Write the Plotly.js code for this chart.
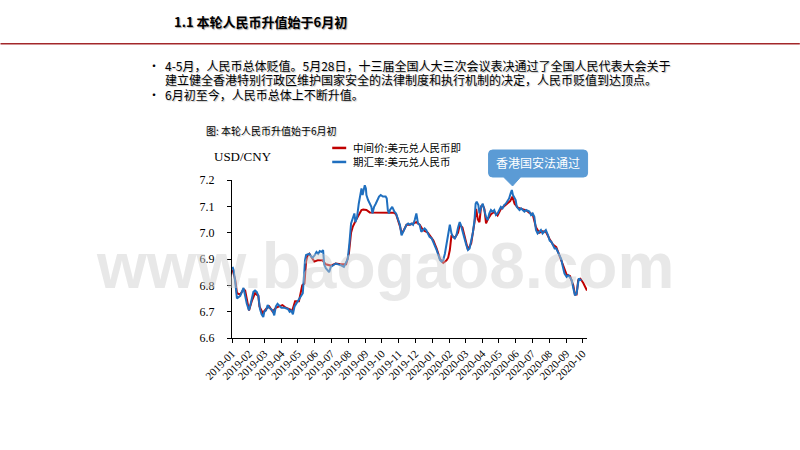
<!DOCTYPE html>
<html>
<head>
<meta charset="utf-8">
<script src="https://cdn.plot.ly/plotly-3.0.1.min.js"></script>
<style>html,body{margin:0;padding:0;background:#fff;}#chart{width:800px;height:450px;}</style>
</head>
<body>
<div id="chart"></div>
<script>
// ---- data ----
var spotName = '期汇率:美元兑人民币';
var midName = '中间价:美元兑人民币即';
var spotDates = ['2019-01-02','2019-01-04','2019-01-07','2019-01-10','2019-01-16','2019-01-22','2019-01-28','2019-02-01','2019-02-04','2019-02-09','2019-02-12','2019-02-15','2019-02-18','2019-02-21','2019-02-24','2019-02-27','2019-03-01','2019-03-04','2019-03-07','2019-03-10','2019-03-16','2019-03-19','2019-03-22','2019-03-25','2019-04-01','2019-04-07','2019-04-13','2019-04-16','2019-04-19','2019-04-22','2019-04-25','2019-04-28','2019-05-01','2019-05-07','2019-05-10','2019-05-13','2019-05-14','2019-05-16','2019-05-22','2019-05-25','2019-05-28','2019-06-01','2019-06-04','2019-06-07','2019-06-10','2019-06-13','2019-06-16','2019-06-18','2019-06-21','2019-06-27','2019-06-30','2019-07-09','2019-07-18','2019-07-24','2019-07-31','2019-08-03','2019-08-06','2019-08-09','2019-08-12','2019-08-14','2019-08-17','2019-08-20','2019-08-23','2019-08-25','2019-08-27','2019-08-31','2019-09-02','2019-09-03','2019-09-06','2019-09-09','2019-09-12','2019-09-14','2019-09-17','2019-09-20','2019-09-23','2019-09-26','2019-09-29','2019-10-03','2019-10-08','2019-10-10','2019-10-12','2019-10-14','2019-10-16','2019-10-20','2019-10-24','2019-10-27','2019-10-31','2019-11-03','2019-11-06','2019-11-09','2019-11-12','2019-11-15','2019-11-18','2019-11-21','2019-11-24','2019-11-27','2019-11-30','2019-12-03','2019-12-06','2019-12-09','2019-12-12','2019-12-15','2019-12-18','2019-12-21','2019-12-24','2019-12-27','2019-12-31','2020-01-03','2020-01-06','2020-01-09','2020-01-12','2020-01-15','2020-01-18','2020-01-21','2020-01-24','2020-01-27','2020-01-30','2020-02-02','2020-02-05','2020-02-08','2020-02-11','2020-02-14','2020-02-17','2020-02-20','2020-02-22','2020-02-25','2020-02-28','2020-03-03','2020-03-06','2020-03-09','2020-03-12','2020-03-15','2020-03-18','2020-03-20','2020-03-22','2020-03-25','2020-03-27','2020-03-30','2020-04-02','2020-04-05','2020-04-08','2020-04-11','2020-04-14','2020-04-17','2020-04-20','2020-04-23','2020-04-26','2020-04-29','2020-05-02','2020-05-05','2020-05-08','2020-05-11','2020-05-14','2020-05-17','2020-05-20','2020-05-23','2020-05-25','2020-05-27','2020-06-01','2020-06-03','2020-06-08','2020-06-11','2020-06-14','2020-06-17','2020-06-20','2020-06-26','2020-06-29','2020-07-02','2020-07-05','2020-07-08','2020-07-11','2020-07-14','2020-07-17','2020-07-20','2020-07-23','2020-07-26','2020-07-30','2020-08-02','2020-08-05','2020-08-08','2020-08-11','2020-08-14','2020-08-17','2020-08-20','2020-08-23','2020-08-26','2020-08-29','2020-09-02','2020-09-05','2020-09-08','2020-09-11','2020-09-14','2020-09-17','2020-09-20','2020-09-22','2020-09-24','2020-09-27','2020-09-29'];
var spotValues = [6.87,6.857,6.81,6.75,6.76,6.79,6.73,6.705,6.73,6.775,6.78,6.775,6.76,6.71,6.69,6.68,6.70,6.705,6.725,6.715,6.705,6.686,6.72,6.73,6.715,6.715,6.71,6.70,6.705,6.69,6.72,6.73,6.736,6.756,6.77,6.857,6.895,6.915,6.92,6.91,6.905,6.915,6.927,6.92,6.93,6.927,6.934,6.88,6.865,6.85,6.87,6.883,6.877,6.87,6.90,6.96,7.035,7.054,7.073,7.04,7.06,7.11,7.155,7.168,7.143,7.18,7.168,7.143,7.124,7.11,7.098,7.073,7.098,7.11,7.124,7.137,7.143,7.137,7.137,7.13,7.086,7.073,7.086,7.098,7.08,7.073,7.048,7.03,6.99,7.003,7.016,7.03,7.035,7.03,7.035,7.03,7.048,7.073,7.035,7.03,7.003,7.01,7.016,7.01,6.997,6.984,6.978,6.965,6.953,6.934,6.915,6.896,6.89,6.896,6.92,6.96,6.99,7.03,6.997,6.984,6.978,6.99,7.02,7.04,7.03,7.003,6.984,6.953,6.934,6.94,6.97,7.00,7.048,7.11,7.118,7.105,7.073,7.098,7.11,7.086,7.06,7.048,7.073,7.086,7.08,7.086,7.067,7.073,7.086,7.098,7.092,7.105,7.11,7.118,7.13,7.15,7.162,7.143,7.124,7.098,7.086,7.092,7.086,7.08,7.086,7.08,7.067,7.073,7.06,7.01,6.997,7.003,7.01,6.997,7.003,7.01,6.99,6.97,6.965,6.953,6.94,6.94,6.927,6.908,6.90,6.87,6.845,6.832,6.838,6.83,6.82,6.79,6.762,6.768,6.80,6.826,6.82,6.82];
var midDates = ['2019-01-02','2019-01-07','2019-01-10','2019-01-16','2019-01-22','2019-01-25','2019-02-01','2019-02-06','2019-02-12','2019-02-18','2019-02-20','2019-02-26','2019-03-04','2019-03-10','2019-03-16','2019-03-22','2019-03-28','2019-04-03','2019-04-09','2019-04-15','2019-04-21','2019-04-26','2019-05-03','2019-05-09','2019-05-13','2019-05-16','2019-05-19','2019-05-22','2019-05-25','2019-05-28','2019-05-31','2019-06-06','2019-06-15','2019-06-21','2019-06-30','2019-07-09','2019-07-18','2019-07-28','2019-08-02','2019-08-06','2019-08-09','2019-08-15','2019-08-21','2019-08-25','2019-08-28','2019-09-03','2019-09-09','2019-09-21','2019-10-03','2019-10-15','2019-10-23','2019-10-27','2019-10-31','2019-11-03','2019-11-06','2019-11-09','2019-11-15','2019-11-21','2019-11-27','2019-12-03','2019-12-09','2019-12-15','2019-12-24','2020-01-03','2020-01-09','2020-01-15','2020-01-21','2020-01-27','2020-01-30','2020-02-02','2020-02-05','2020-02-11','2020-02-17','2020-02-20','2020-02-25','2020-03-03','2020-03-06','2020-03-12','2020-03-15','2020-03-18','2020-03-21','2020-03-24','2020-03-27','2020-03-30','2020-04-02','2020-04-05','2020-04-08','2020-04-11','2020-04-17','2020-04-23','2020-04-29','2020-05-05','2020-05-11','2020-05-17','2020-05-22','2020-05-26','2020-05-30','2020-06-05','2020-06-14','2020-06-20','2020-06-26','2020-07-02','2020-07-08','2020-07-14','2020-07-20','2020-07-26','2020-08-02','2020-08-08','2020-08-14','2020-08-20','2020-08-26','2020-09-02','2020-09-08','2020-09-14','2020-09-17','2020-09-20','2020-09-23','2020-09-27','2020-10-02','2020-10-05','2020-10-09'];
var midValues = [6.86,6.82,6.77,6.765,6.785,6.78,6.705,6.74,6.77,6.76,6.72,6.695,6.71,6.72,6.70,6.715,6.72,6.725,6.715,6.71,6.705,6.74,6.74,6.80,6.807,6.89,6.915,6.92,6.91,6.904,6.89,6.895,6.895,6.88,6.875,6.883,6.88,6.88,6.92,7.00,7.022,7.048,7.073,7.086,7.088,7.086,7.077,7.076,7.076,7.076,7.076,7.07,7.048,7.025,7.00,7.005,7.03,7.03,7.035,7.04,7.03,7.01,7.00,6.97,6.94,6.90,6.885,6.895,6.905,6.934,6.99,6.98,7.00,7.03,7.02,6.955,6.935,6.96,6.995,7.04,7.09,7.05,7.04,7.10,7.105,7.09,7.035,7.05,7.07,7.08,7.065,7.09,7.10,7.11,7.12,7.137,7.11,7.095,7.09,7.085,7.075,7.07,7.02,7.00,7.005,7.003,6.975,6.955,6.945,6.91,6.88,6.84,6.835,6.80,6.765,6.765,6.82,6.825,6.81,6.795,6.78];
var yTicks = [6.6, 6.7, 6.8, 6.9, 7.0, 7.1, 7.2];
var yTickText = ['6.6', '6.7', '6.8', '6.9', '7.0', '7.1', '7.2'];
var xRange = ['2019-01-01', '2020-10-09'];
var yRange = [6.6, 7.2];
var eventLabel = '香港国安法通过';

// ---- layout helpers ----
var L = 231.7, R = 587, T = 180, B = 337.7;
var W = R - L, H = B - T;
function px(x) { return (x - L) / W; }
function py(y) { return (B - y) / H; }

var redColor = '#C00000';
var blueColor = '#1F6FBF';
var cjk = '"Noto Sans CJK SC", "Noto Sans", sans-serif';
var serif = '"Liberation Serif", "DejaVu Serif", serif';

var traces = [
  { type: 'scatter', mode: 'lines', name: midName, x: midDates, y: midValues,
    line: { color: redColor, width: 2 }, showlegend: false },
  { type: 'scatter', mode: 'lines', name: spotName, x: spotDates, y: spotValues,
    line: { color: blueColor, width: 2 }, showlegend: false }
];

function paperText(text, x, y, opts) {
  return { xref: 'paper', yref: 'paper', x: px(x), y: py(y), text: text, showarrow: false,
    xanchor: opts.xanchor || 'left', yanchor: 'middle',
    font: { family: opts.family || cjk, size: opts.size || 12, color: opts.color || '#000',
            weight: opts.weight || 'normal', shadow: opts.shadow || 'none' } };
}

var annotations = [
  paperText('1.1 本轮人民币升值始于6月初', 172, 22, { size: 13, weight: 'bold', shadow: '1px 1px 1px #a0a0a0' }),
  paperText('•', 146, 66, { size: 12 }),
  paperText('•', 146, 95, { size: 12 }),
  paperText('4-5月，人民币总体贬值。5月28日，十三届全国人大三次会议表决通过了全国人民代表大会关于', 163, 66, { size: 12, shadow: '1px 1px 1px #c0c0c0' }),
  paperText('建立健全香港特别行政区维护国家安全的法律制度和执行机制的决定，人民币贬值到达顶点。', 163, 80, { size: 12, shadow: '1px 1px 1px #c0c0c0' }),
  paperText('6月初至今，人民币总体上不断升值。', 163, 95, { size: 12, shadow: '1px 1px 1px #c0c0c0' }),
  paperText('图: 本轮人民币升值始于6月初', 204, 131, { size: 10, shadow: '1px 1px 1px #c8c8c8' }),
  paperText('USD/CNY', 212, 157, { size: 13, family: serif }),
  paperText(midName, 351, 148, { size: 10.5 }),
  paperText(spotName, 351, 162, { size: 10.5 }),
  { xref: 'paper', yref: 'paper', x: px(385), y: py(266), text: 'www.baogao8.com', showarrow: false,
    xanchor: 'center', yanchor: 'middle',
    font: { family: '"Liberation Sans", Arial, sans-serif', size: 64, weight: 'bold', color: 'rgba(205,205,205,0.45)' } },
  paperText(eventLabel, 537.5, 163, { xanchor: 'center', size: 12, color: '#ffffff' })
];

var shapes = [
  { type: 'line', xref: 'paper', yref: 'paper', x0: px(0), x1: px(800), y0: py(44), y1: py(44),
    line: { color: '#A3282B', width: 1.3 } },
  { type: 'line', xref: 'paper', yref: 'paper', x0: px(332), x1: px(346), y0: py(148), y1: py(148),
    line: { color: redColor, width: 2.5 } },
  { type: 'line', xref: 'paper', yref: 'paper', x0: px(332), x1: px(346), y0: py(162), y1: py(162),
    line: { color: blueColor, width: 2.5 } },
  { type: 'path', xref: 'paper', yref: 'paper', xsizemode: 'pixel', ysizemode: 'pixel',
    xanchor: px(512.5), yanchor: py(186),
    path: 'M -20,36 L 71,36 Q 75,36 75,32 L 75,13 Q 75,9 71,9 L 8,9 L 0,0 L -9,9 L -20,9 Q -24,9 -24,13 L -24,32 Q -24,36 -20,36 Z',
    fillcolor: '#5B9BD5', line: { color: '#5B9BD5', width: 1 } }
];

var layout = {
  width: 800, height: 450,
  margin: { l: L, r: 800 - R, t: T, b: 450 - B, pad: 0 },
  paper_bgcolor: '#ffffff', plot_bgcolor: '#ffffff',
  showlegend: false,
  xaxis: {
    type: 'date', range: xRange, dtick: 'M1', tick0: '2019-01-01', tickformat: '%Y-%m',
    tickangle: -45, ticks: 'outside', ticklen: 4, tickcolor: '#000', tickwidth: 1,
    showline: true, linecolor: '#000', linewidth: 1, showgrid: false, zeroline: false,
    tickfont: { family: serif, size: 11, color: '#000' }
  },
  yaxis: {
    range: yRange, tickmode: 'array', tickvals: yTicks, ticktext: yTickText,
    ticks: 'outside', ticklen: 4, tickcolor: '#000', tickwidth: 1,
    showline: true, linecolor: '#000', linewidth: 1, showgrid: false, zeroline: false,
    ticklabelstandoff: 10,
    tickfont: { family: serif, size: 12, color: '#000' }
  },
  annotations: annotations,
  shapes: shapes
};

Plotly.newPlot('chart', traces, layout, { displayModeBar: false, staticPlot: true });
</script>
</body>
</html>
